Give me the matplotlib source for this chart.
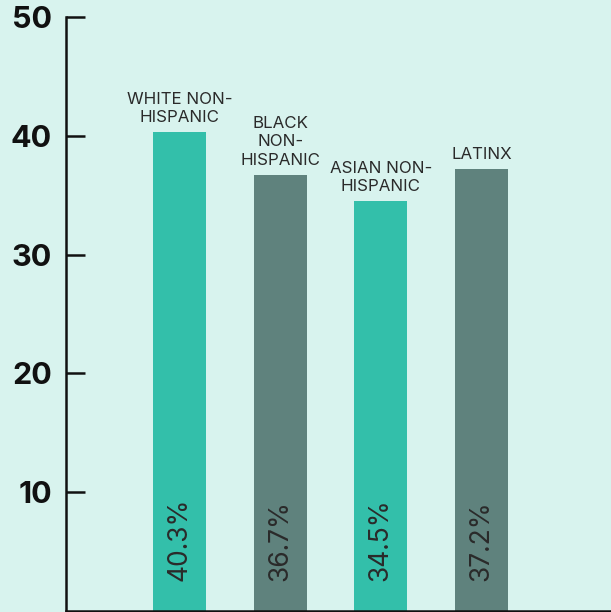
import matplotlib
matplotlib.use("Agg")
import matplotlib.pyplot as plt

categories = ["WHITE NON-\nHISPANIC", "BLACK\nNON-\nHISPANIC", "ASIAN NON-\nHISPANIC", "LATINX"]
values = [40.3, 36.7, 34.5, 37.2]
value_labels = ["40.3%", "36.7%", "34.5%", "37.2%"]
yticks = [10, 20, 30, 40, 50]

bg = "#d8f3ee"
colors = ["#33bfaa", "#5f827d", "#33bfaa", "#5f827d"]

plt.rcParams['font.family'] = ['Inter', 'DejaVu Sans']

fig = plt.figure(figsize=(6.11, 6.12), dpi=100, facecolor=bg)
ax = fig.add_axes([66/611, 1 - 611/612, 1 - 66/611, (611 - 17)/612])
ax.set_facecolor(bg)

x = list(range(len(values)))
ax.bar(x, values, width=0.526, color=colors, zorder=2)

ax.set_xlim(-1.127, 4.286)
ax.set_ylim(0, 50)
ax.set_yticks(yticks)
ax.set_yticklabels([str(t) for t in yticks], fontsize=22, fontweight='bold', color='#111111')
ax.set_xticks([])
ax.tick_params(axis='y', direction='in', length=13.5, width=1.8, pad=10, color='#111111')
for s in ['top', 'right']:
    ax.spines[s].set_visible(False)
for s in ['left', 'bottom']:
    ax.spines[s].set_linewidth(1.8)
    ax.spines[s].set_color('#111111')

for xi, v, cat, lab in zip(x, values, categories, value_labels):
    ax.annotate(cat, (xi, v), xytext=(0, 5), textcoords='offset points',
                ha='center', va='bottom', fontsize=12.2, color='#2a2a2a',
                linespacing=1.3)
    ax.text(xi, 2.5, lab, rotation=90, ha='center', va='bottom',
            fontsize=19, color='#2a2a2a')

fig.savefig("out.png", dpi=100, facecolor=bg)
